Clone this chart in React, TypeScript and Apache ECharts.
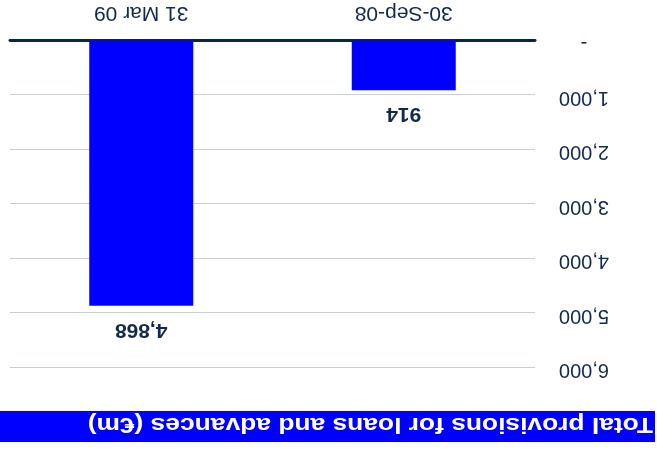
import React, { useEffect, useRef } from "react";
import * as echarts from "echarts";

const categories = ["30-Sep-08", "31 Mar 09"];
const provisions = [914, 4868];
const yTicks = [0, 1000, 2000, 3000, 4000, 5000, 6000];
const titleText = "Total provisions for loans and advances (€m)";

const NAVY = "#12294b";
const BLUE = "#0000ff";
const FONT = "Liberation Sans, Arial, sans-serif";

export default function App() {
  const ref = useRef<HTMLDivElement>(null);
  useEffect(() => {
    if (!ref.current) return;
    const chart = echarts.init(ref.current, undefined, { renderer: "svg" });
    chart.setOption({
      animation: false,
      backgroundColor: "#ffffff",
      graphic: [
        {
          type: "rect",
          shape: { x: 2, y: 8, width: 655, height: 31 },
          style: { fill: BLUE },
          silent: true,
        },
        {
          type: "text",
          x: 4,
          y: 24,
          scaleX: 1.2,
          style: {
            text: titleText,
            fill: "#ffffff",
            font: `bold 22px ${FONT}`,
            textVerticalAlign: "middle",
            verticalAlign: "middle",
          },
        },
      ],
      grid: { left: 122, right: 10, top: 82.5, bottom: 40.5, containLabel: false },
      xAxis: {
        type: "category",
        data: categories,
        axisLine: { show: true, lineStyle: { color: "#0b2545", width: 3 } },
        axisTick: { show: false },
        axisLabel: {
          color: NAVY,
          fontFamily: FONT,
          fontSize: 21,
          margin: 15,
        },
      },
      yAxis: {
        type: "value",
        min: yTicks[0],
        max: yTicks[yTicks.length - 1],
        interval: yTicks[1] - yTicks[0],
        axisLine: { show: false },
        axisTick: { show: false },
        splitLine: { show: true, lineStyle: { color: "#c5d0d6", width: 1 } },
        axisLabel: {
          color: NAVY,
          fontFamily: FONT,
          fontSize: 20,
          align: "center",
          verticalAlign: "bottom",
          lineHeight: 8,
          margin: 49,
          formatter: (v: number) => (v === 0 ? "-" : v.toLocaleString("en-US")),
        },
      },
      series: [
        {
          type: "bar",
          data: provisions,
          barWidth: 104,
          itemStyle: { color: BLUE },
          label: {
            show: true,
            position: "top",
            distance: 15,
            color: NAVY,
            fontFamily: FONT,
            fontSize: 21,
            fontWeight: "bold",
            formatter: (p: any) => p.value.toLocaleString("en-US"),
          },
        },
      ],
    });
    return () => chart.dispose();
  }, []);
  return (
    <div
      style={{
        position: "fixed",
        left: 0,
        top: 0,
        width: 657,
        height: 450,
        transform: "rotate(180deg)",
        background: "#fff",
      }}
    >
      <div ref={ref} style={{ width: 657, height: 450 }} />
    </div>
  );
}
